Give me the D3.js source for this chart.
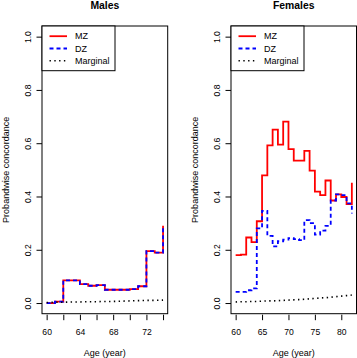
<!DOCTYPE html>
<html>
<head>
<meta charset="utf-8">
<script src="https://cdn.jsdelivr.net/npm/d3@7"></script>
<style>
  html, body { margin: 0; padding: 0; background: #fff; }
  svg { display: block; }
  text { font-family: "Liberation Sans", Arial, Helvetica, sans-serif; fill: #000; }
</style>
</head>
<body>
<svg id="chart" width="357" height="358"></svg>
<script>
// ---------- data ----------
const maleAges = [60, 61, 62, 63, 64, 65, 66, 67, 68, 69, 70, 71, 72, 73, 74];
const maleMZ = [0.000, 0.005, 0.085, 0.085, 0.071, 0.065, 0.067, 0.050, 0.050, 0.050, 0.052, 0.063, 0.195, 0.189, 0.290];
const maleDZ = [0.000, 0.005, 0.085, 0.085, 0.071, 0.065, 0.067, 0.050, 0.050, 0.050, 0.052, 0.063, 0.195, 0.189, 0.290];
const maleMarginal = [0.002, 0.003, 0.003, 0.004, 0.004, 0.005, 0.005, 0.006, 0.006, 0.007, 0.008, 0.009, 0.010, 0.010, 0.011];

const femaleAges = [60, 61, 62, 63, 64, 65, 66, 67, 68, 69, 70, 71, 72, 73, 74, 75, 76, 77, 78, 79, 80, 81, 82];
const femaleMZ = [0.180, 0.182, 0.246, 0.229, 0.307, 0.479, 0.592, 0.651, 0.595, 0.681, 0.578, 0.535, 0.535, 0.571, 0.497, 0.418, 0.405, 0.460, 0.385, 0.408, 0.398, 0.371, 0.452];
const femaleDZ = [0.042, 0.042, 0.048, 0.055, 0.280, 0.346, 0.252, 0.213, 0.232, 0.238, 0.244, 0.240, 0.236, 0.311, 0.300, 0.257, 0.272, 0.290, 0.385, 0.408, 0.405, 0.374, 0.336];
const femaleMarginal = [0.004, 0.005, 0.005, 0.006, 0.006, 0.007, 0.008, 0.008, 0.009, 0.010, 0.011, 0.012, 0.013, 0.014, 0.016, 0.017, 0.019, 0.020, 0.022, 0.024, 0.026, 0.028, 0.030];

const maleXTicks = [60, 62, 64, 66, 68, 70, 72, 74];
const maleXLabels = [60, 64, 68, 72];
const femaleXTicks = [60, 65, 70, 75, 80];
const femaleXLabels = [60, 65, 70, 75, 80];
const yTicks = [0, 0.2, 0.4, 0.6, 0.8, 1.0];

const legendLabels = ["MZ", "DZ", "Marginal"];
const titles = ["Males", "Females"];
const xTitle = "Age (year)";
const yTitle = "Probandwise concordance";

// ---------- layout ----------
const svg = d3.select("#chart");
const plotTop = 26, plotBottom = 313.7;
const panels = [
  { title: titles[0], left: 42, right: 167.7, ages: maleAges, mz: maleMZ, dz: maleDZ, marg: maleMarginal, ticks: maleXTicks, labels: maleXLabels },
  { title: titles[1], left: 231, right: 356.5, ages: femaleAges, mz: femaleMZ, dz: femaleDZ, marg: femaleMarginal, ticks: femaleXTicks, labels: femaleXLabels }
];

const styles = [
  { color: "#ff0000", width: 1.8, dash: null },
  { color: "#0000ff", width: 1.8, dash: "4,3" },
  { color: "#000000", width: 1.6, dash: "1.4,3.4" }
];

panels.forEach(p => {
  const xmin = d3.min(p.ages), xmax = d3.max(p.ages), r = xmax - xmin;
  const x = d3.scaleLinear().domain([xmin - 0.04 * r, xmax + 0.04 * r]).range([p.left, p.right]);
  const y = d3.scaleLinear().domain([-0.04, 1.04]).range([plotBottom, plotTop]);
  const g = svg.append("g");
  const cx = (p.left + p.right) / 2;

  // title
  g.append("text").attr("x", cx).attr("y", 9).attr("text-anchor", "middle")
    .attr("font-size", "10.4px").attr("font-weight", "bold").text(p.title);

  // series
  const step = d3.line().x((d, i) => x(p.ages[i])).y(d => y(d)).curve(d3.curveStepAfter);
  const lin = d3.line().x((d, i) => x(p.ages[i])).y(d => y(d));
  [[p.mz, step, styles[0]], [p.dz, step, styles[1]], [p.marg, lin, styles[2]]].forEach(([vals, gen, st]) => {
    g.append("path").attr("d", gen(vals)).attr("fill", "none")
      .attr("stroke", st.color).attr("stroke-width", st.width)
      .attr("stroke-dasharray", st.dash).attr("stroke-linejoin", "miter");
  });

  // box
  g.append("rect").attr("x", p.left).attr("y", plotTop)
    .attr("width", p.right - p.left).attr("height", plotBottom - plotTop)
    .attr("fill", "none").attr("stroke", "#000").attr("stroke-width", 1);

  // x axis
  const xa = g.append("g").attr("transform", `translate(0,${plotBottom + 1})`)
    .call(d3.axisBottom(x).tickValues(p.ticks).tickSize(5.5).tickSizeOuter(0)
      .tickFormat(d => p.labels.includes(d) ? d : ""));
  xa.select(".domain").remove();
  xa.selectAll("line").attr("stroke", "#000");
  xa.selectAll("text").attr("font-size", "8.6px").attr("font-family", null).attr("dy", null).attr("y", 20);

  // y axis
  const ya = g.append("g").attr("transform", `translate(${p.left},0)`)
    .call(d3.axisLeft(y).tickValues(yTicks).tickSize(5.5).tickSizeOuter(0).tickFormat(d3.format(".1f")));
  ya.select(".domain").remove();
  ya.selectAll("line").attr("stroke", "#000");
  ya.selectAll("text").attr("font-size", "8.6px").attr("font-family", null)
    .attr("x", null).attr("dy", null)
    .attr("text-anchor", "middle")
    .attr("transform", "translate(-11.5,0) rotate(-90)")
    .attr("y", 0);

  // axis titles
  g.append("text").attr("x", cx).attr("y", 356).attr("text-anchor", "middle")
    .attr("font-size", "9px").text(xTitle);
  g.append("text").attr("transform", `translate(${p.left - 33},${(plotTop + plotBottom) / 2}) rotate(-90)`)
    .attr("text-anchor", "middle").attr("font-size", "9px").text(yTitle);

  // legend
  const lg = g.append("g");
  lg.append("rect").attr("x", p.left).attr("y", plotTop).attr("width", 73).attr("height", 44.7)
    .attr("fill", "#fff").attr("stroke", "#000").attr("stroke-width", 1);
  legendLabels.forEach((lab, i) => {
    const ly = plotTop + 10.2 + i * 12.3;
    lg.append("line").attr("x1", p.left + 7.5).attr("x2", p.left + 25)
      .attr("y1", ly).attr("y2", ly)
      .attr("stroke", styles[i].color).attr("stroke-width", styles[i].width)
      .attr("stroke-dasharray", styles[i].dash);
    lg.append("text").attr("x", p.left + 33).attr("y", ly + 3.2)
      .attr("font-size", "9px").text(lab);
  });
});
</script>
</body>
</html>
